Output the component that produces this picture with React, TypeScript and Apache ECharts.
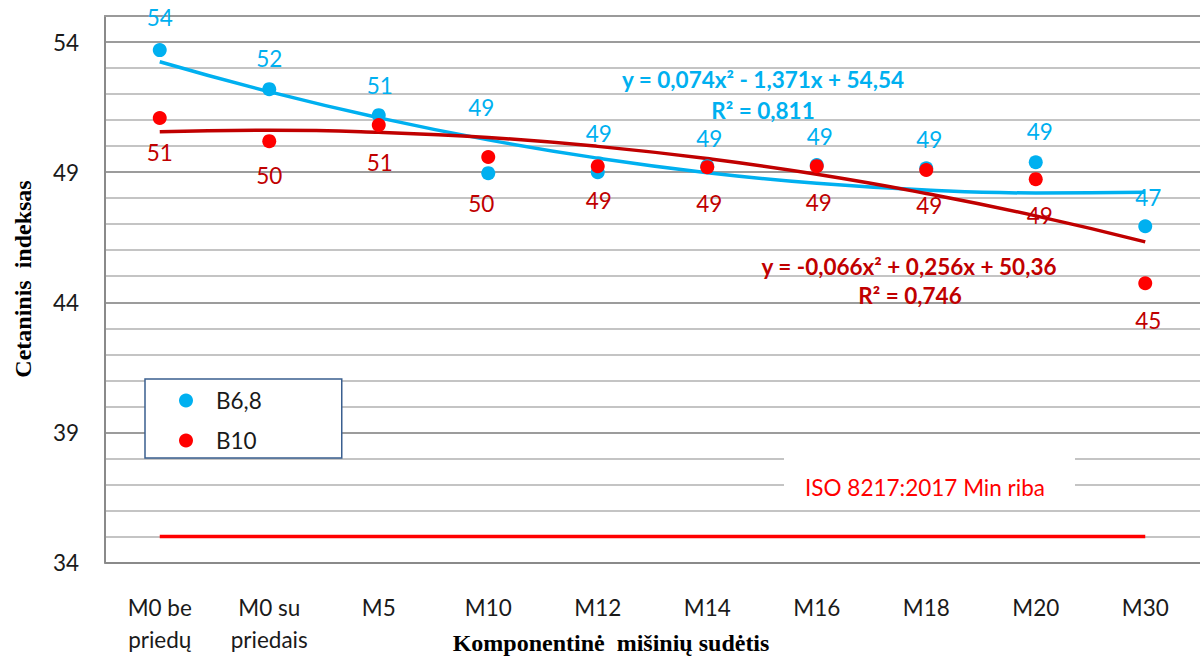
import React, { useEffect, useRef } from "react";
import * as echarts from "echarts";

const categories = [
  "M0 be\npriedų",
  "M0 su\npriedais",
  "M5",
  "M10",
  "M12",
  "M14",
  "M16",
  "M18",
  "M20",
  "M30",
];
const seriesNames = ["B6,8", "B10"];
const b68Values = [53.69, 52.19, 51.19, 48.96, 49.0, 49.23, 49.27, 49.15, 49.38, 46.92];
const b10Values = [51.08, 50.19, 50.81, 49.58, 49.23, 49.19, 49.23, 49.08, 48.73, 44.73];
const b68Trend = [53.24, 52.09, 51.09, 50.24, 49.54, 48.98, 48.57, 48.31, 48.2, 48.23];
const b10Trend = [50.55, 50.61, 50.53, 50.33, 49.99, 49.52, 48.92, 48.18, 47.32, 46.32];
const isoLimit = [35, 35, 35, 35, 35, 35, 35, 35, 35, 35];
const yTicks = [34, 39, 44, 49, 54];
const b68Equation = "y = 0,074x² - 1,371x + 54,54";
const b68R2 = "R² = 0,811";
const b10Equation = "y = -0,066x² + 0,256x + 50,36";
const b10R2 = "R² = 0,746";
const isoLabel = "ISO 8217:2017 Min riba";
const yTitle = "Cetaninis  indeksas";
const xTitle = "Komponentinė  mišinių sudėtis";

// label layout (pixel offsets from the marker)
const b68LabelOffsets = [[0, -33], [0, -31], [1, -30], [-7, -66], [1, -39], [2, -28], [3, -29], [3, -29], [4, -31], [3, -29]];
const b10LabelOffsets = [[0, 34], [0, 34], [1, 37], [-7, 46], [1, 34], [2, 36], [2, 36], [3, 35], [4, 36], [3, 37]];

const BLUE = "#00b0f0";
const RED = "#ff0000";
const DARKRED = "#c00000";
const SANS = "Lato, 'Open Sans', sans-serif";
const SERIF = "'Liberation Serif', 'DejaVu Serif', serif";
const FS = 22.5;

export default function App() {
  const ref = useRef<HTMLDivElement>(null);
  useEffect(() => {
    if (!ref.current) return;
    const chart = echarts.init(ref.current, null, { renderer: "svg" });
    const pointData = (vals: number[], offs: number[][]) =>
      vals.map((v, i) => ({ value: v, label: { offset: offs[i] } }));
    const option = {
      animation: false,
      backgroundColor: "#ffffff",
      grid: { left: 105, top: 16, width: 1105, height: 546.5, containLabel: false },
      legend: {
        left: 145,
        top: 379,
        orient: "vertical",
        data: [
          { name: seriesNames[0], icon: "circle" },
          { name: seriesNames[1], icon: "circle" },
        ],
        itemWidth: 14,
        itemHeight: 14,
        itemGap: 17,
        padding: [10, 80, 6, 34],
        backgroundColor: "#ffffff",
        borderColor: "#3a5f8f",
        borderWidth: 1.5,
        borderRadius: 0,
        textStyle: { fontSize: FS, lineHeight: 20, fontFamily: SANS, color: "#1a1a1a", padding: [0, 0, 0, 18] },
        z: 20,
      },
      xAxis: [
        {
          type: "category",
          data: categories,
          boundaryGap: true,
          axisLine: { show: true, lineStyle: { color: "#8a8a8a", width: 2 } },
          axisTick: { show: false },
          axisLabel: {
            interval: 0,
            margin: 29,
            fontSize: FS,
            lineHeight: 32,
            fontFamily: SANS,
            color: "#1a1a1a",
            verticalAlign: "top",
          },
          splitLine: { show: false },
        },
        {
          type: "category",
          position: "top",
          data: categories,
          axisLine: { show: true, lineStyle: { color: "#9a9a9a", width: 2 } },
          axisTick: { show: false },
          axisLabel: { show: false },
        },
      ],
      yAxis: {
        type: "value",
        min: 34,
        max: 55,
        interval: 1,
        axisLine: { show: true, lineStyle: { color: "#8a8a8a", width: 2 } },
        axisTick: { show: false },
        axisLabel: {
          margin: 26,
          fontSize: FS,
          fontFamily: SANS,
          color: "#1a1a1a",
          formatter: (v: number) => (yTicks.includes(v) ? String(v) : ""),
        },
        splitLine: {
          show: true,
          lineStyle: { color: ["#9c9c9c", "#c4c4c4", "#c4c4c4", "#c4c4c4", "#c4c4c4"], width: 2 },
        },
      },
      series: [
        {
          name: "iso",
          type: "line",
          data: isoLimit,
          showSymbol: false,
          lineStyle: { color: RED, width: 3.5 },
          z: 2,
          silent: true,
        },
        {
          name: "b68trend",
          type: "line",
          data: b68Trend,
          smooth: true,
          showSymbol: false,
          lineStyle: { color: BLUE, width: 3.5 },
          z: 3,
        },
        {
          name: "b10trend",
          type: "line",
          data: b10Trend,
          smooth: true,
          showSymbol: false,
          lineStyle: { color: DARKRED, width: 3.5 },
          z: 3,
        },
        {
          name: seriesNames[0],
          type: "scatter",
          data: pointData(b68Values, b68LabelOffsets),
          symbol: "circle",
          symbolSize: 14,
          itemStyle: { color: BLUE, opacity: 1 },
          label: {
            show: true,
            position: "inside",
            fontSize: FS,
            fontFamily: SANS,
            color: BLUE,
            formatter: (p: any) => String(Math.round(p.value)),
          },
          z: 5,
        },
        {
          name: seriesNames[1],
          type: "scatter",
          data: pointData(b10Values, b10LabelOffsets),
          symbol: "circle",
          symbolSize: 14,
          itemStyle: { color: RED, opacity: 1 },
          label: {
            show: true,
            position: "inside",
            fontSize: FS,
            fontFamily: SANS,
            color: DARKRED,
            formatter: (p: any) => String(Math.round(p.value)),
          },
          z: 6,
        },
      ],
      graphic: [
        {
          type: "rect",
          shape: { x: 784, y: 442, width: 291, height: 58 },
          style: { fill: "#ffffff" },
          z: 10,
        },
        {
          type: "text",
          x: 925,
          y: 487,
          style: { text: isoLabel, fill: RED, font: `${FS}px ${SANS}`, align: "center", verticalAlign: "middle" },
          z: 11,
        },
        {
          type: "text",
          x: 763,
          y: 79,
          style: { text: b68Equation, fill: BLUE, font: `bold ${FS}px ${SANS}`, align: "center", verticalAlign: "middle" },
          z: 11,
        },
        {
          type: "text",
          x: 763,
          y: 110,
          style: { text: b68R2, fill: BLUE, font: `bold ${FS}px ${SANS}`, align: "center", verticalAlign: "middle" },
          z: 11,
        },
        {
          type: "text",
          x: 909,
          y: 266,
          style: { text: b10Equation, fill: DARKRED, font: `bold ${FS}px ${SANS}`, align: "center", verticalAlign: "middle" },
          z: 11,
        },
        {
          type: "text",
          x: 910,
          y: 295,
          style: { text: b10R2, fill: DARKRED, font: `bold ${FS}px ${SANS}`, align: "center", verticalAlign: "middle" },
          z: 11,
        },
        {
          type: "text",
          x: 23,
          y: 279,
          rotation: Math.PI / 2,
          style: { text: yTitle, fill: "#000000", font: `bold 24px ${SERIF}`, align: "center", verticalAlign: "middle" },
          z: 11,
        },
        {
          type: "text",
          x: 611,
          y: 643,
          style: { text: xTitle, fill: "#000000", font: `bold 24px ${SERIF}`, align: "center", verticalAlign: "middle" },
          z: 11,
        },
      ],
    };
    chart.setOption(option as any);
    return () => chart.dispose();
  }, []);
  return (
    <div
      ref={ref}
      style={{ position: "fixed", left: 0, top: 0, width: 1200, height: 659, background: "#fff" }}
    />
  );
}
